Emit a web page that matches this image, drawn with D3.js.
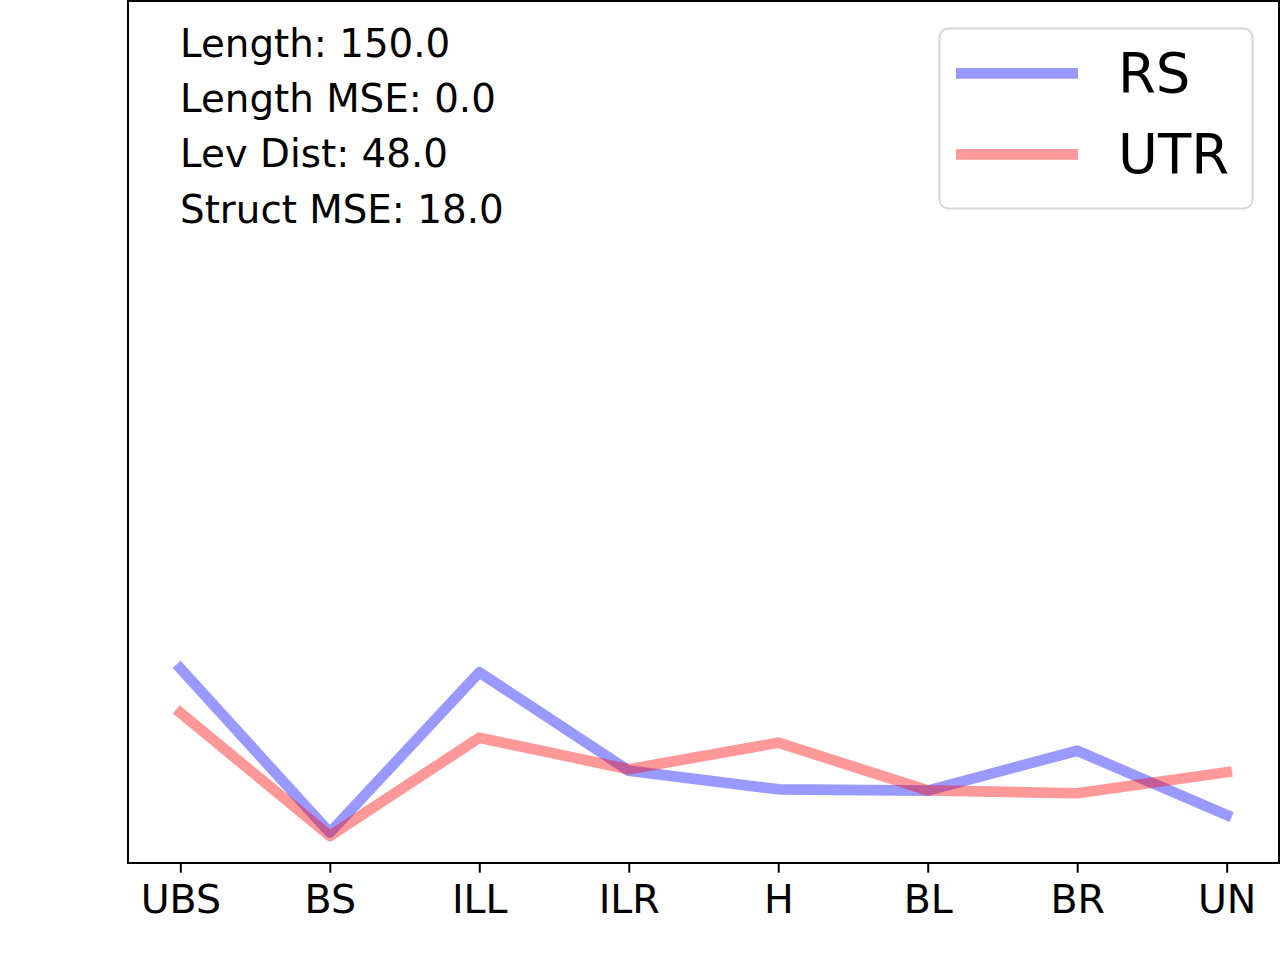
<!DOCTYPE html>
<html>
<head>
<meta charset="utf-8">
<script src="https://cdn.jsdelivr.net/npm/d3@7"></script>
<style>
  html, body { margin: 0; padding: 0; background: #fff; }
  svg { display: block; font-family: "DejaVu Sans", sans-serif; }
</style>
</head>
<body>
<svg id="chart" width="1280" height="960"></svg>
<script>
const categories = ["UBS", "BS", "ILL", "ILR", "H", "BL", "BR", "UN"];
const rsValues  = [22.56, 3.51, 22.10, 10.70, 8.54, 8.38, 13.01, 5.56];
const utrValues = [17.42, 3.13, 14.52, 10.86, 13.94, 8.42, 8.08, 10.51];
const seriesNames = ["RS", "UTR"];
const statLines = ["Length: 150.0", "Length MSE: 0.0", "Lev Dist: 48.0", "Struct MSE: 18.0"];

(function () {
const svg = d3.select("#chart");
const plotLeft = 128, plotRight = 1279, plotTop = 1, plotBottom = 863;

const x = d3.scaleLinear().domain([-0.35, categories.length - 1 + 0.35]).range([plotLeft, plotRight]);
const y = d3.scaleLinear().domain([0, 100]).range([plotBottom, 0]);

// lines
const line = d3.line().x((d, i) => x(i)).y(d => y(d));
const series = [
  { name: seriesNames[0], values: rsValues, color: "blue" },
  { name: seriesNames[1], values: utrValues, color: "red" }
];
svg.append("g").selectAll("path").data(series).join("path")
  .attr("d", d => line(d.values))
  .attr("fill", "none")
  .attr("stroke", d => d.color)
  .attr("stroke-opacity", 0.4)
  .attr("stroke-width", 10.7)
  .attr("stroke-linejoin", "round")
  .attr("stroke-linecap", "square");

// x axis
const xAxis = d3.axisBottom(x)
  .tickValues(d3.range(categories.length))
  .tickFormat(i => categories[i])
  .tickSize(9.7)
  .tickPadding(10);
const gx = svg.append("g").attr("transform", `translate(0,${plotBottom})`).call(xAxis);
gx.select(".domain").remove();
gx.selectAll(".tick line").attr("stroke", "#000").attr("stroke-width", 2);
gx.selectAll(".tick text").attr("font-size", "39.5px").attr("fill", "#000")
  .attr("font-family", "DejaVu Sans").attr("dy", "0.76em");

// frame
svg.append("rect")
  .attr("x", plotLeft).attr("y", plotTop)
  .attr("width", plotRight - plotLeft).attr("height", plotBottom - plotTop)
  .attr("fill", "none").attr("stroke", "#000").attr("stroke-width", 2);

// stats text
svg.append("g").selectAll("text").data(statLines).join("text")
  .attr("x", 180)
  .attr("y", (d, i) => 56.7 + i * 55.3)
  .attr("font-size", "38.8px")
  .attr("fill", "#000")
  .text(d => d);

// legend
const lg = svg.append("g");
lg.append("rect")
  .attr("x", 939.5).attr("y", 28.5)
  .attr("width", 313).attr("height", 180)
  .attr("rx", 9).attr("ry", 9)
  .attr("fill", "#fff").attr("fill-opacity", 0.8)
  .attr("stroke", "#d6d6d6").attr("stroke-width", 2);
const items = lg.selectAll("g.item").data(series).join("g").attr("class", "item")
  .attr("transform", (d, i) => `translate(0,${73.3 + i * 81})`);
items.append("line")
  .attr("x1", 956).attr("x2", 1078).attr("y1", 0).attr("y2", 0)
  .attr("stroke", d => d.color).attr("stroke-opacity", 0.4)
  .attr("stroke-width", 10.7);
items.append("text")
  .attr("x", 1118).attr("y", 19)
  .attr("font-size", "54.5px").attr("fill", "#000")
  .text(d => d.name);
})();
</script>
</body>
</html>
